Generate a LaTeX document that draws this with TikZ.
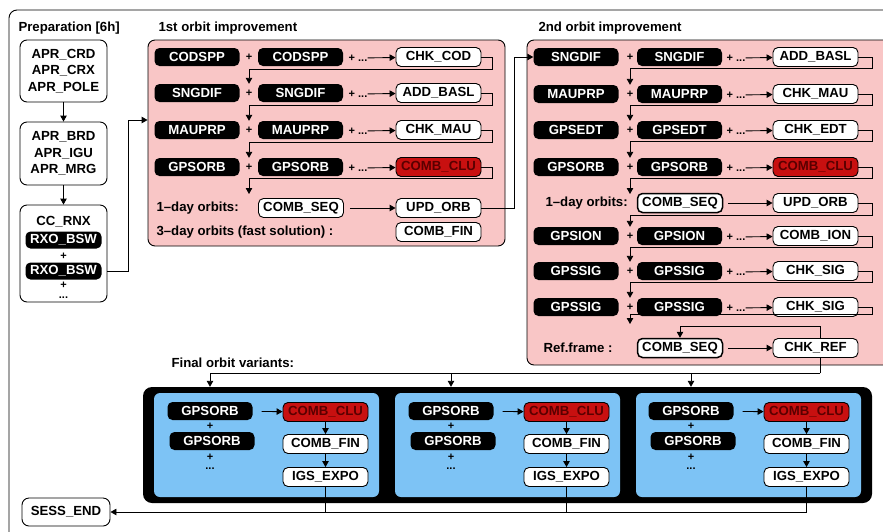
\documentclass[tikz,border=0pt]{standalone}
\usepackage{fontspec}
\setmainfont{Liberation Sans}
\usetikzlibrary{arrows.meta}
\definecolor{panelpink}{RGB}{249,198,198}
\definecolor{panelblue}{RGB}{125,195,245}
\definecolor{clured}{RGB}{200,16,16}
\definecolor{clutext}{RGB}{90,0,0}
\tikzset{every node/.style={font=\fontsize{13.2}{16.5}\selectfont\bfseries},
  prog/.style={rounded corners=5pt, minimum width=85pt, minimum height=18pt, inner sep=0pt},
  blackprog/.style={prog, fill=black, text=white},
  whiteprog/.style={prog, draw, fill=white, line width=0.9pt, minimum height=19pt},
  redprog/.style={prog, draw, fill=clured, text=clutext, line width=0.9pt, minimum height=19pt},
  plussign/.style={font=\fontsize{11}{11}\selectfont\bfseries, minimum height=18pt, inner sep=0pt},
  plusmark/.style={font=\fontsize{11}{11}\selectfont\bfseries, inner sep=0pt},
  more/.style={font=\fontsize{11}{11}\selectfont\bfseries, inner sep=0pt},
  panel/.style={draw, line width=0.9pt, rounded corners=7pt},
  wire/.style={line width=0.9pt},
  flow/.style={wire, -{Triangle[length=6pt, width=6.5pt]}}}

\begin{document}
\begin{tikzpicture}[x=1pt, y=-1pt]
  \useasboundingbox (0,0) rectangle (883,531);
  \draw[wire, rounded corners=8pt] (9,10) rectangle (900,545);

  % preparation
  \node[anchor=west] (prep-title) at (15,28) {Preparation [6h]};
  \node[panel, minimum width=87pt, minimum height=62pt, align=center] (prep-apr) at (63.5,71) {APR\_CRD\\APR\_CRX\\APR\_POLE};
  \node[panel, minimum width=87pt, minimum height=63pt, align=center] (prep-brd) at (63.5,153.5) {APR\_BRD\\APR\_IGU\\APR\_MRG};
  \node[panel, minimum width=87pt, minimum height=97pt] (prep-rnx) at (63.5,253.5) {};
  \node (prep-ccrnx) at (63.5,222) {CC\_RNX};
  \node[blackprog, minimum width=76pt, minimum height=17pt] (prep-rxo-a) at (63.5,240) {RXO\_BSW};
  \node[plusmark] (prep-plus-a) at (63.5,256) {+};
  \node[blackprog, minimum width=76pt, minimum height=17pt] (prep-rxo-b) at (63.5,271) {RXO\_BSW};
  \node[more, align=center, font=\fontsize{11}{10}\selectfont\bfseries] (prep-more) at (63.5,290) {+\\...};
  \draw[flow] (prep-apr) -- (prep-brd);
  \draw[flow] (prep-brd) -- (prep-rnx);

  % 1st orbit improvement
  \node[anchor=west] (orb1-title) at (155,28) {1st orbit improvement};
  \node[panel, fill=panelpink, minimum width=357pt, minimum height=206pt] (orb1-panel) at (326.5,143) {};
  \coordinate (prep-turn) at (128,120);
  \draw[flow] (prep-rnx.east |- prep-rxo-b) -| (prep-turn) -- (orb1-panel.west |- prep-turn);

  \node[blackprog] (orb1-cod-a) at (197,57) {CODSPP};
  \node[plussign] (orb1-cod-plus) at (249,57) {+};
  \node[blackprog] (orb1-cod-b) at (300.5,57) {CODSPP};
  \node[more] (orb1-cod-more) at (358,58) {+ ...};
  \node[whiteprog] (orb1-cod-chk) at (438.5,57) {CHK\_COD};
  \draw[flow] (orb1-cod-more) -- (orb1-cod-chk);

  \node[blackprog] (orb1-sng-a) at (197,93) {SNGDIF};
  \node[plussign] (orb1-sng-plus) at (249,93) {+};
  \node[blackprog] (orb1-sng-b) at (300.5,93) {SNGDIF};
  \node[more] (orb1-sng-more) at (358,94) {+ ...};
  \node[whiteprog] (orb1-sng-chk) at (438.5,93) {ADD\_BASL};
  \draw[flow] (orb1-sng-more) -- (orb1-sng-chk);
  \draw[flow] (orb1-cod-chk.east) -- ++(11,0) -- ++(0,12) -| (orb1-sng-plus.north);

  \node[blackprog] (orb1-mau-a) at (197,130) {MAUPRP};
  \node[plussign] (orb1-mau-plus) at (249,130) {+};
  \node[blackprog] (orb1-mau-b) at (300.5,130) {MAUPRP};
  \node[more] (orb1-mau-more) at (358,131) {+ ...};
  \node[whiteprog] (orb1-mau-chk) at (438.5,130) {CHK\_MAU};
  \draw[flow] (orb1-mau-more) -- (orb1-mau-chk);
  \draw[flow] (orb1-sng-chk.east) -- ++(11,0) -- ++(0,12) -| (orb1-mau-plus.north);

  \node[blackprog] (orb1-orb-a) at (197,167) {GPSORB};
  \node[plussign] (orb1-orb-plus) at (249,167) {+};
  \node[blackprog] (orb1-orb-b) at (300.5,167) {GPSORB};
  \node[more] (orb1-orb-more) at (358,168) {+ ...};
  \node[redprog] (orb1-orb-clu) at (438.5,167) {COMB\_CLU};
  \draw[flow] (orb1-orb-more) -- (orb1-orb-clu);
  \draw[flow] (orb1-mau-chk.east) -- ++(11,0) -- ++(0,12) -| (orb1-orb-plus.north);

  \coordinate (orb1-day1-in) at (249,194);
  \draw[flow] (orb1-orb-clu.east) -- ++(11,0) -- ++(0,11) -| (orb1-day1-in);
  \node[anchor=west] (orb1-day1-label) at (153,208) {1--day orbits:};
  \node[whiteprog] (orb1-day1-seq) at (301,208) {COMB\_SEQ};
  \node[whiteprog] (orb1-day1-upd) at (438.5,208) {UPD\_ORB};
  \draw[flow, shorten <=6pt] (orb1-day1-seq) -- (orb1-day1-upd);
  \node[anchor=west] (orb1-day3-label) at (153,232) {3--day orbits (fast solution) :};
  \node[whiteprog] (orb1-day3-fin) at (438.5,232) {COMB\_FIN};

  % 2nd orbit improvement
  \node[anchor=west] (orb2-title) at (535,28) {2nd orbit improvement};
  \node[panel, fill=panelpink, minimum width=368pt, minimum height=325pt] (orb2-panel) at (711,202.5) {};

  \node[blackprog] (orb2-sng-a) at (576,57) {SNGDIF};
  \node[plussign] (orb2-sng-plus) at (630,57) {+};
  \node[blackprog] (orb2-sng-b) at (679.5,57) {SNGDIF};
  \node[more] (orb2-sng-more) at (736,58) {+ ...};
  \node[whiteprog] (orb2-sng-chk) at (815.5,57) {ADD\_BASL};
  \draw[flow] (orb2-sng-more) -- (orb2-sng-chk);
  \coordinate (orb-link) at (514,57);
  \draw[flow] (orb1-day1-upd.east) -| (orb-link) -- (orb2-sng-a.west);

  \node[blackprog] (orb2-mau-a) at (576,94) {MAUPRP};
  \node[plussign] (orb2-mau-plus) at (630,94) {+};
  \node[blackprog] (orb2-mau-b) at (679.5,94) {MAUPRP};
  \node[more] (orb2-mau-more) at (736,95) {+ ...};
  \node[whiteprog] (orb2-mau-chk) at (815.5,94) {CHK\_MAU};
  \draw[flow] (orb2-mau-more) -- (orb2-mau-chk);
  \draw[flow] (orb2-sng-chk.east) -- ++(14,0) -- ++(0,11) -| (orb2-mau-plus.north);

  \node[blackprog] (orb2-edt-a) at (576,130) {GPSEDT};
  \node[plussign] (orb2-edt-plus) at (630,130) {+};
  \node[blackprog] (orb2-edt-b) at (679.5,130) {GPSEDT};
  \node[more] (orb2-edt-more) at (736,131) {+ ...};
  \node[whiteprog] (orb2-edt-chk) at (815.5,130) {CHK\_EDT};
  \draw[flow] (orb2-edt-more) -- (orb2-edt-chk);
  \draw[flow] (orb2-mau-chk.east) -- ++(14,0) -- ++(0,11) -| (orb2-edt-plus.north);

  \node[blackprog] (orb2-orb-a) at (576,167) {GPSORB};
  \node[plussign] (orb2-orb-plus) at (630,167) {+};
  \node[blackprog] (orb2-orb-b) at (679.5,167) {GPSORB};
  \node[more] (orb2-orb-more) at (736,168) {+ ...};
  \node[redprog] (orb2-orb-clu) at (815.5,167) {COMB\_CLU};
  \draw[flow] (orb2-orb-more) -- (orb2-orb-clu);
  \draw[flow] (orb2-edt-chk.east) -- ++(14,0) -- ++(0,11) -| (orb2-orb-plus.north);

  \coordinate (orb2-day1-in) at (630,194);
  \draw[flow] (orb2-orb-clu.east) -- ++(14,0) -- ++(0,11) -| (orb2-day1-in);
  \node[anchor=west] (orb2-day1-label) at (542,203) {1--day orbits:};
  \node[whiteprog, line width=1.5pt] (orb2-day1-seq) at (680,203) {COMB\_SEQ};
  \node[whiteprog] (orb2-day1-upd) at (815.5,203) {UPD\_ORB};
  \draw[flow, shorten <=5pt] (orb2-day1-seq) -- (orb2-day1-upd);

  \node[blackprog] (orb2-ion-a) at (576,236) {GPSION};
  \node[plussign] (orb2-ion-plus) at (630,236) {+};
  \node[blackprog] (orb2-ion-b) at (679.5,236) {GPSION};
  \node[more] (orb2-ion-more) at (736,237) {+ ...};
  \node[whiteprog] (orb2-ion-chk) at (815.5,236) {COMB\_ION};
  \draw[flow] (orb2-ion-more) -- (orb2-ion-chk);
  \draw[flow] (orb2-day1-upd.east) -- ++(14,0) -- ++(0,12) -| (orb2-ion-plus.north);

  \node[blackprog] (orb2-sig-a) at (576,271) {GPSSIG};
  \node[plussign] (orb2-sig-plus) at (630,271) {+};
  \node[blackprog] (orb2-sig-b) at (679.5,271) {GPSSIG};
  \node[more] (orb2-sig-more) at (736,272) {+ ...};
  \node[whiteprog] (orb2-sig-chk) at (815.5,271) {CHK\_SIG};
  \draw[flow] (orb2-sig-more) -- (orb2-sig-chk);
  \draw[flow] (orb2-ion-chk.east) -- ++(14,0) -- ++(0,11) -| (orb2-sig-plus.north);

  \node[blackprog] (orb2-sigb-a) at (576,307) {GPSSIG};
  \node[plussign] (orb2-sigb-plus) at (630,307) {+};
  \node[blackprog] (orb2-sigb-b) at (679.5,307) {GPSSIG};
  \node[more] (orb2-sigb-more) at (736,308) {+ ...};
  \node[whiteprog] (orb2-sigb-chk) at (815.5,307) {CHK\_SIG};
  \draw[flow] (orb2-sigb-more) -- (orb2-sigb-chk);
  \draw[flow] (orb2-sig-chk.east) -- ++(14,0) -- ++(0,11) -| (orb2-sigb-plus.north);

  \coordinate (orb2-ref-in) at (630,324);
  \draw[flow] (orb2-sigb-chk.east) -- ++(14,0) -- ++(0,7) -| (orb2-ref-in);
  \node[anchor=west] (orb2-ref-label) at (540,348) {Ref.frame :};
  \node[whiteprog, line width=1.5pt] (orb2-ref-seq) at (680,348) {COMB\_SEQ};
  \node[whiteprog] (orb2-ref-chk) at (815.5,348) {CHK\_REF};
  \draw[flow, shorten <=5pt] (orb2-ref-seq) -- (orb2-ref-chk);
  \coordinate (ref-loop) at (820,326);
  \draw[flow] (orb2-ref-chk.north -| ref-loop) -- (ref-loop) -| (orb2-ref-seq.north);

  % final orbit variants
  \node[anchor=west] (variants-title) at (168,363) {Final orbit variants:};
  \node[fill=black, rounded corners=9pt, minimum width=729pt, minimum height=116pt] (variants) at (507.5,445) {};
  \node[fill=panelblue, rounded corners=6pt, minimum width=225pt, minimum height=104pt] (var-a) at (266.5,445) {};
  \node[fill=panelblue, rounded corners=6pt, minimum width=225pt, minimum height=104pt] (var-b) at (507.5,445) {};
  \node[fill=panelblue, rounded corners=6pt, minimum width=225pt, minimum height=104pt] (var-c) at (748.5,445) {};

  \node[blackprog] (var-a-orb-a) at (210,411) {GPSORB};
  \node[plusmark] (var-a-plus-a) at (210,426) {+};
  \node[blackprog] (var-a-orb-b) at (212,441) {GPSORB};
  \node[plusmark] (var-a-plus-b) at (210,457) {+};
  \node[more] (var-a-more) at (210,469) {...};
  \node[redprog] (var-a-clu) at (325.5,412) {COMB\_CLU};
  \node[whiteprog] (var-a-fin) at (325.5,444) {COMB\_FIN};
  \node[whiteprog] (var-a-expo) at (325.5,477) {IGS\_EXPO};
  \draw[flow, shorten <=9pt] (var-a-orb-a) -- (var-a-clu);
  \draw[flow] (var-a-clu) -- (var-a-fin);
  \draw[flow] (var-a-fin) -- (var-a-expo);

  \node[blackprog] (var-b-orb-a) at (451,411) {GPSORB};
  \node[plusmark] (var-b-plus-a) at (451,426) {+};
  \node[blackprog] (var-b-orb-b) at (453,441) {GPSORB};
  \node[plusmark] (var-b-plus-b) at (451,457) {+};
  \node[more] (var-b-more) at (451,469) {...};
  \node[redprog] (var-b-clu) at (566.5,412) {COMB\_CLU};
  \node[whiteprog] (var-b-fin) at (566.5,444) {COMB\_FIN};
  \node[whiteprog] (var-b-expo) at (566.5,477) {IGS\_EXPO};
  \draw[flow, shorten <=9pt] (var-b-orb-a) -- (var-b-clu);
  \draw[flow] (var-b-clu) -- (var-b-fin);
  \draw[flow] (var-b-fin) -- (var-b-expo);

  \node[blackprog] (var-c-orb-a) at (691,411) {GPSORB};
  \node[plusmark] (var-c-plus-a) at (691,426) {+};
  \node[blackprog] (var-c-orb-b) at (693,441) {GPSORB};
  \node[plusmark] (var-c-plus-b) at (691,457) {+};
  \node[more] (var-c-more) at (691,469) {...};
  \node[redprog] (var-c-clu) at (806.5,412) {COMB\_CLU};
  \node[whiteprog] (var-c-fin) at (806.5,444) {COMB\_FIN};
  \node[whiteprog] (var-c-expo) at (806.5,477) {IGS\_EXPO};
  \draw[flow, shorten <=9pt] (var-c-orb-a) -- (var-c-clu);
  \draw[flow] (var-c-clu) -- (var-c-fin);
  \draw[flow] (var-c-fin) -- (var-c-expo);

  \coordinate (variants-bus) at (820,373);
  \draw[wire] (orb2-ref-chk.south -| variants-bus) -- (variants-bus);
  \draw[flow] (variants-bus) -| (var-a-orb-a |- variants.north);
  \draw[flow] (variants-bus) -| (var-b-orb-a |- variants.north);
  \draw[flow] (variants-bus) -| (var-c-orb-a |- variants.north);

  % session end
  \node[panel, minimum width=88pt, minimum height=28pt] (sess-end) at (66,512) {SESS\_END};
  \draw[flow] (var-c-expo.south) |- (sess-end.east);
  \draw[wire] (var-a-expo.south) -- (var-a-expo.south |- sess-end.east);
  \draw[wire] (var-b-expo.south) -- (var-b-expo.south |- sess-end.east);
\end{tikzpicture}
\end{document}
